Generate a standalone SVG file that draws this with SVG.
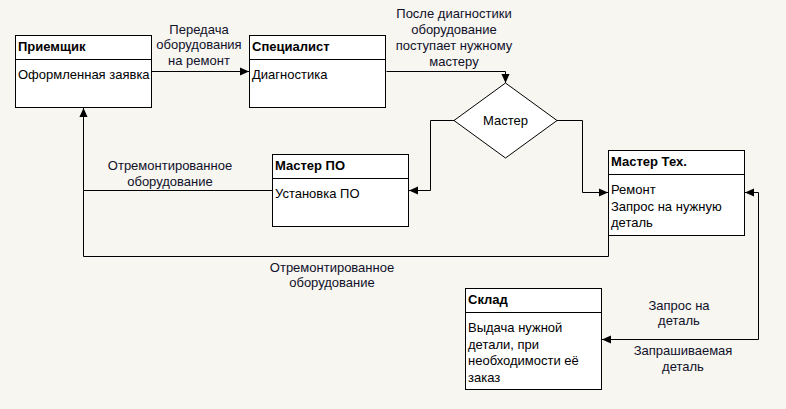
<svg xmlns="http://www.w3.org/2000/svg" width="786" height="409" viewBox="0 0 786 409">
<defs>
<style>
.box{fill:#fff;stroke:#000;stroke-width:1}
.sep{stroke:#000;stroke-width:1}
.t{font-family:"Liberation Sans",Arial,sans-serif;font-size:13px;fill:#000}
.b{font-weight:bold}
.lbl{font-family:"Liberation Sans",Arial,sans-serif;font-size:13px;fill:#10102a;text-anchor:middle}
.c{fill:none;stroke:#000;stroke-width:1}
</style>
<marker id="arr" viewBox="0 0 10 10" refX="10" refY="5" markerWidth="9" markerHeight="9" markerUnits="userSpaceOnUse" orient="auto">
<path d="M0,0.5 L10,5 L0,9.5 Z" fill="#000"/>
</marker>
<marker id="arrS" viewBox="0 0 10 10" refX="10" refY="5" markerWidth="9" markerHeight="9" markerUnits="userSpaceOnUse" orient="auto-start-reverse">
<path d="M0,0.5 L10,5 L0,9.5 Z" fill="#000"/>
</marker>
</defs>
<rect width="786" height="409" fill="#f7f6f0"/>

<g id="connectors">
<path class="c" d="M151.5,71.5 H249" marker-end="url(#arr)"/>
<path class="c" d="M386.5,71.5 H505.5 V83" marker-end="url(#arr)"/>
<path class="c" d="M454,120.5 H430.5 V190.5 H409" marker-end="url(#arr)"/>
<path class="c" d="M557,120.5 H582.5 V192.5 H608" marker-end="url(#arr)"/>
<path class="c" d="M272,190.5 H83.5 V108" marker-end="url(#arr)"/>
<path class="c" d="M608.5,235.5 V256.5 H83.5 V190.5"/>
<path class="c" d="M745,192.5 H758.5 V339.5 H602" marker-start="url(#arrS)" marker-end="url(#arr)"/>
<text class="lbl" x="199" y="33.5">Передача</text>
<text class="lbl" x="199" y="49">оборудования</text>
<text class="lbl" x="199" y="64.5">на ремонт</text>
<text class="lbl" x="454" y="18">После диагностики</text>
<text class="lbl" x="454" y="33.5">оборудование</text>
<text class="lbl" x="454" y="49.5">поступает нужному</text>
<text class="lbl" x="454" y="65.5">мастеру</text>
<text class="lbl" x="170" y="169.5">Отремонтированное</text>
<text class="lbl" x="170" y="185.5">оборудование</text>
<text class="lbl" x="332" y="271.5">Отремонтированное</text>
<text class="lbl" x="332" y="287">оборудование</text>
<text class="lbl" x="679" y="309.5">Запрос на</text>
<text class="lbl" x="679" y="325">деталь</text>
<text class="lbl" x="683" y="355">Запрашиваемая</text>
<text class="lbl" x="683" y="370.5">деталь</text>
</g>

<g id="priemshchik">
<rect class="box" x="15.5" y="35.5" width="136" height="72"/>
<line class="sep" x1="15.5" y1="59.5" x2="151.5" y2="59.5"/>
<text class="t b" x="18" y="51">Приемщик</text>
<text class="t" x="18" y="79">Оформленная заявка</text>
</g>

<g id="specialist">
<rect class="box" x="249.5" y="35.5" width="136" height="72"/>
<line class="sep" x1="249.5" y1="59.5" x2="385.5" y2="59.5"/>
<text class="t b" x="252" y="51">Специалист</text>
<text class="t" x="252" y="79">Диагностика</text>
</g>

<g id="master-decision">
<polygon class="box" points="505.5,83 557,120.5 505.5,158 454,120.5"/>
<text class="lbl" x="505.5" y="124.5" style="fill:#000">Мастер</text>
</g>

<g id="master-po">
<rect class="box" x="272.5" y="154.5" width="136" height="72"/>
<line class="sep" x1="272.5" y1="178.5" x2="408.5" y2="178.5"/>
<text class="t b" x="275" y="170">Мастер ПО</text>
<text class="t" x="275" y="198">Установка ПО</text>
</g>

<g id="master-teh">
<rect class="box" x="608.5" y="150.5" width="136" height="85"/>
<line class="sep" x1="608.5" y1="174.5" x2="744.5" y2="174.5"/>
<text class="t b" x="611" y="166">Мастер Тех.</text>
<text class="t" x="611" y="194">Ремонт</text>
<text class="t" x="611" y="210.5">Запрос на нужную</text>
<text class="t" x="611" y="227">деталь</text>
</g>

<g id="sklad">
<rect class="box" x="465.5" y="288.5" width="136" height="101"/>
<line class="sep" x1="465.5" y1="312.5" x2="601.5" y2="312.5"/>
<text class="t b" x="468" y="304">Склад</text>
<text class="t" x="468" y="332">Выдача нужной</text>
<text class="t" x="468" y="348.5">детали, при</text>
<text class="t" x="468" y="365">необходимости её</text>
<text class="t" x="468" y="381.5">заказ</text>
</g>
</svg>
